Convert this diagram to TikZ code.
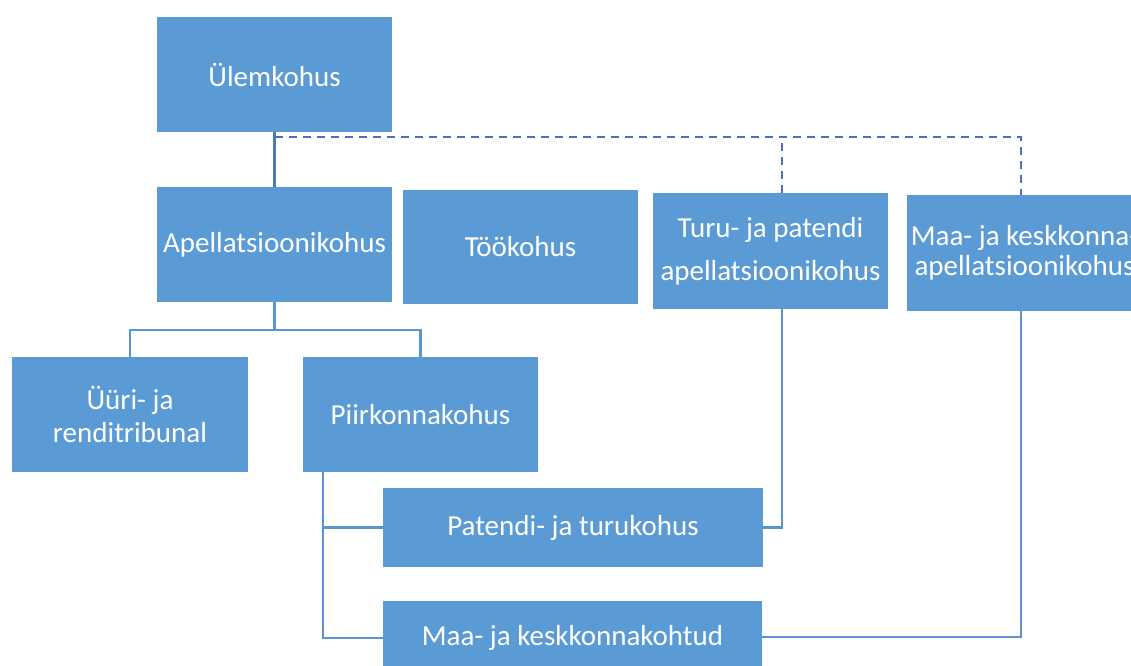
\documentclass[tikz,border=0pt]{standalone}
\usepackage{fontspec}
\setmainfont{Carlito}
\definecolor{boxblue}{HTML}{5B9BD5}
\definecolor{linkblue}{HTML}{5B95CF}
\definecolor{topblue}{HTML}{4D7CB0}
\definecolor{dashblue}{HTML}{4472C4}
\begin{document}
\begin{tikzpicture}[x=1pt,y=-1pt,
  box/.style={fill=boxblue, draw=none, text=white, align=center, inner sep=0pt,
    font=\fontsize{29}{33}\selectfont},
  conn/.style={draw=linkblue, line width=2.5pt},
  topconn/.style={draw=topblue, line width=2.5pt},
  dconn/.style={draw=dashblue, line width=2pt, dash pattern=on 8pt off 6pt}]
\useasboundingbox (0,0) rectangle (1131,665);
\clip (0,0) rectangle (1131,665);
\node[box, minimum width=235pt, minimum height=115pt] (ul) at (274.5,74.5) {Ülemkohus};
\node[box, minimum width=235pt, minimum height=115pt] (ap) at (274.5,244.5) {Apellatsioonikohus};
\node[box, minimum width=235pt, minimum height=114pt] (too) at (520.5,247) {Töökohus};
\node[box, minimum width=235pt, minimum height=116pt] (turu) at (770.5,251) {Turu- ja patendi\\[10pt]apellatsioonikohus};
\node[box, minimum width=235pt, minimum height=116pt] (maa) at (1024.5,253) {Maa- ja keskkonna-\\[-3pt]apellatsioonikohus};
\node[box, minimum width=236pt, minimum height=115pt] (uuri) at (130,414.5) {Üüri- ja\\renditribunal};
\node[box, minimum width=235pt, minimum height=115pt] (piir) at (420.5,414.5) {Piirkonnakohus};
\node[box, minimum width=380pt, minimum height=79pt] (pat) at (573,527.5) {Patendi- ja turukohus};
\node[box, minimum width=379pt, minimum height=74pt] (mkk) at (572.5,638) {Maa- ja keskkonnakohtud};
% connectors
\draw[topconn] (ul.south) -- (ap.north);
\coordinate (dj) at (275,137);
\draw[dconn] (dj) -| ([xshift=-3.5pt]maa.north);
\draw[dconn] ([xshift=11.5pt]turu.north) -- ([xshift=11.5pt]turu.north |- dj);
\draw[conn] (ap.south) -- ++(0,28) -| (uuri.north);
\draw[conn] (ap.south) -- ++(0,28) -| (piir.north);
\draw[conn] ([xshift=-97.5pt]piir.south) |- (pat.west);
\draw[conn] ([xshift=-97.5pt]piir.south) |- (mkk.west);
\draw[conn] ([xshift=11.5pt]turu.south) |- (pat.east);
\draw[conn] ([xshift=-3.5pt]maa.south) |- ([yshift=1pt]mkk.east);
\end{tikzpicture}
\end{document}
